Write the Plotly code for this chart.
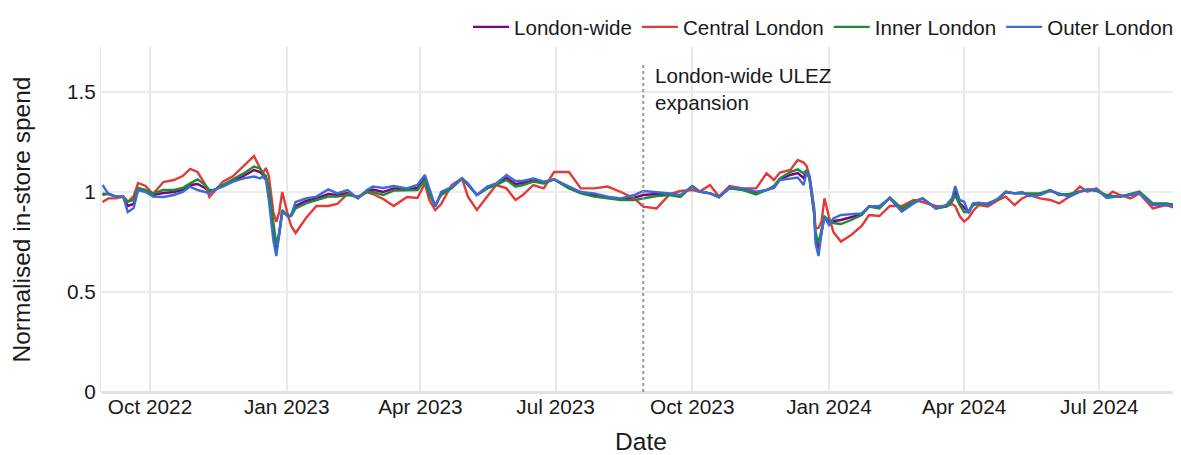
import plotly.graph_objects as go

dates = [
    # 2022-23 season
    "2022-08-30", "2022-09-03", "2022-09-08", "2022-09-13", "2022-09-16", "2022-09-20", "2022-09-23",
    "2022-09-28", "2022-10-03", "2022-10-10", "2022-10-17", "2022-10-23", "2022-10-28", "2022-11-02",
    "2022-11-07", "2022-11-10", "2022-11-13", "2022-11-19", "2022-11-26", "2022-12-03", "2022-12-10",
    "2022-12-14", "2022-12-16", "2022-12-18", "2022-12-20", "2022-12-23", "2022-12-25", "2022-12-27",
    "2022-12-29", "2023-01-02", "2023-01-04", "2023-01-07", "2023-01-14", "2023-01-21", "2023-01-29",
    "2023-02-04", "2023-02-11", "2023-02-18", "2023-02-24", "2023-02-28", "2023-03-07",
    # spring-summer 2023
    "2023-03-14", "2023-03-23", "2023-03-30", "2023-04-04", "2023-04-07", "2023-04-11", "2023-04-15",
    "2023-04-22", "2023-04-29", "2023-05-03", "2023-05-09", "2023-05-16", "2023-05-22", "2023-05-29",
    "2023-06-04", "2023-06-09", "2023-06-16", "2023-06-23", "2023-06-30", "2023-07-10", "2023-07-18",
    "2023-07-27", "2023-08-05", "2023-08-14", "2023-08-23", "2023-08-29", "2023-09-07", "2023-09-16",
    # 2023-24 season
    "2023-09-23", "2023-10-01", "2023-10-06", "2023-10-13", "2023-10-19", "2023-10-26", "2023-11-04",
    "2023-11-13", "2023-11-20", "2023-11-25", "2023-11-29", "2023-12-06", "2023-12-11", "2023-12-15",
    "2023-12-17", "2023-12-19", "2023-12-22", "2023-12-23", "2023-12-25", "2023-12-27", "2023-12-29",
    "2024-01-01", "2024-01-04", "2024-01-09", "2024-01-16", "2024-01-23", "2024-01-28", "2024-02-04",
    "2024-02-11", "2024-02-19", "2024-02-27", "2024-03-04", "2024-03-13", "2024-03-20", "2024-03-24",
    "2024-03-26", "2024-03-29", "2024-04-01", "2024-04-04", "2024-04-07",
    # spring-summer 2024
    "2024-04-11", "2024-04-17", "2024-04-24", "2024-04-29", "2024-05-05", "2024-05-10", "2024-05-15",
    "2024-05-22", "2024-05-29", "2024-06-04", "2024-06-11", "2024-06-18", "2024-06-23", "2024-06-29",
    "2024-07-06", "2024-07-10", "2024-07-15", "2024-07-22", "2024-07-28", "2024-08-06", "2024-08-15",
    "2024-08-22", "2024-08-25",
]

london_wide = [
    0.99, 0.99, 0.977, 0.976, 0.93, 0.94, 1.015, 1.005, 0.985, 0.995, 1.0, 1.01, 1.035, 1.04,
    1.02, 1.0, 1.01, 1.03, 1.055, 1.08, 1.11, 1.10, 1.085, 1.07, 1.0, 0.80, 0.71, 0.79,
    0.905, 0.878, 0.882, 0.93, 0.955, 0.968, 0.99, 0.985, 0.995, 0.972, 1.005, 1.012, 1.0,
    1.018, 1.012, 1.02, 1.07, 1.0, 0.93, 0.99, 1.02, 1.068, 1.038, 0.985, 1.02, 1.038, 1.07,
    1.04, 1.045, 1.058, 1.048, 1.063, 1.022, 0.997, 0.985, 0.972, 0.963, 0.972, 0.985, 0.99, 0.99,
    0.98, 1.028, 1.002, 0.993, 0.975, 1.02, 1.014, 0.995, 1.01, 1.025, 1.064, 1.085, 1.095, 1.07,
    1.105, 1.068, 0.90, 0.77, 0.71, 0.80, 0.877, 0.848, 0.855, 0.86, 0.873, 0.888, 0.927, 0.924,
    0.97, 0.91, 0.947, 0.968, 0.918, 0.93, 0.96, 1.005, 0.945, 0.925, 0.90, 0.94,
    0.943, 0.94, 0.966, 1.0, 0.993, 0.996, 0.985, 0.99, 1.007, 0.99, 0.983, 1.002, 1.012, 1.01,
    0.978, 0.977, 0.977, 0.987, 0.998, 0.94, 0.94, 0.932, 0.927,
]

central = [
    0.95, 0.968, 0.968, 0.977, 0.95, 0.98, 1.045, 1.03, 0.99, 1.05, 1.06, 1.08, 1.115, 1.10,
    1.04, 0.975, 1.0, 1.052, 1.08, 1.13, 1.18, 1.12, 1.095, 1.12, 1.08, 0.90, 0.85, 0.90,
    1.0, 0.88, 0.83, 0.795, 0.87, 0.93, 0.93, 0.94, 0.99, 0.97, 1.0, 0.99, 0.965,
    0.93, 0.975, 0.97, 1.043, 0.96, 0.91, 0.94, 1.035, 1.068, 0.977, 0.91, 0.977, 1.035, 1.018,
    0.96, 0.985, 1.035, 1.018, 1.10, 1.10, 1.018, 1.018, 1.027, 1.0, 0.968, 0.927, 0.918, 0.99,
    1.005, 1.01, 1.002, 1.035, 0.977, 1.03, 1.018, 1.018, 1.093, 1.06, 1.097, 1.11, 1.16, 1.147,
    1.13, 1.077, 0.927, 0.818, 0.82, 0.852, 0.968, 0.877, 0.80, 0.752, 0.785, 0.83, 0.885, 0.88,
    0.93, 0.93, 0.96, 0.95, 0.93, 0.927, 0.94, 0.93, 0.88, 0.852, 0.87, 0.905,
    0.935, 0.927, 0.96, 0.977, 0.935, 0.968, 0.985, 0.968, 0.96, 0.943, 0.977, 1.027, 1.002, 1.018,
    0.977, 1.002, 0.985, 0.968, 0.993, 0.918, 0.935, 0.918, 0.877,
]

inner = [
    0.985, 0.993, 0.977, 0.977, 0.952, 0.96, 1.02, 1.01, 0.993, 1.01, 1.01, 1.02, 1.043, 1.063,
    1.035, 1.01, 1.01, 1.035, 1.06, 1.093, 1.127, 1.118, 1.093, 1.08, 1.02, 0.83, 0.735, 0.80,
    0.91, 0.877, 0.88, 0.918, 0.943, 0.96, 0.977, 0.977, 0.985, 0.977, 1.0, 1.0, 0.985,
    1.007, 1.007, 1.01, 1.06, 0.985, 0.935, 0.985, 1.018, 1.068, 1.035, 0.985, 1.018, 1.035, 1.06,
    1.027, 1.035, 1.052, 1.043, 1.063, 1.018, 0.993, 0.977, 0.968, 0.96, 0.96, 0.968, 0.98, 0.985,
    0.975, 1.03, 1.002, 0.993, 0.977, 1.018, 1.01, 0.988, 1.01, 1.03, 1.068, 1.10, 1.113, 1.093,
    1.11, 1.06, 0.893, 0.80, 0.743, 0.81, 0.877, 0.86, 0.845, 0.84, 0.86, 0.885, 0.927, 0.918,
    0.973, 0.918, 0.952, 0.968, 0.918, 0.927, 0.952, 0.985, 0.935, 0.90, 0.90, 0.935,
    0.94, 0.943, 0.965, 1.0, 0.993, 0.993, 0.993, 0.993, 1.01, 0.985, 0.99, 1.002, 1.013, 1.005,
    0.985, 0.98, 0.977, 0.99, 1.002, 0.943, 0.943, 0.935, 0.927,
]

outer = [
    1.035, 0.99, 0.977, 0.975, 0.90, 0.92, 1.01, 1.0, 0.977, 0.975, 0.985, 1.0, 1.027, 1.01,
    1.0, 0.995, 1.01, 1.027, 1.052, 1.068, 1.077, 1.068, 1.077, 1.06, 0.96, 0.76, 0.68, 0.78,
    0.90, 0.88, 0.885, 0.95, 0.968, 0.977, 1.013, 0.993, 1.01, 0.968, 1.01, 1.027, 1.02,
    1.03, 1.018, 1.035, 1.085, 1.018, 0.927, 1.0, 1.025, 1.068, 1.043, 0.985, 1.027, 1.043, 1.085,
    1.055, 1.055, 1.068, 1.052, 1.063, 1.027, 1.0, 0.993, 0.977, 0.968, 0.985, 1.005, 1.0, 0.993,
    0.985, 1.027, 1.002, 0.993, 0.973, 1.023, 1.018, 1.002, 1.01, 1.02, 1.06, 1.068, 1.072, 1.035,
    1.10, 1.077, 0.91, 0.743, 0.68, 0.793, 0.877, 0.835, 0.868, 0.885, 0.89, 0.893, 0.927, 0.93,
    0.968, 0.902, 0.943, 0.968, 0.918, 0.935, 0.97, 1.03, 0.96, 0.952, 0.895, 0.943,
    0.947, 0.935, 0.968, 1.002, 0.993, 1.0, 0.98, 0.985, 1.005, 0.993, 0.977, 1.002, 1.01, 1.015,
    0.97, 0.975, 0.977, 0.985, 0.995, 0.935, 0.935, 0.93, 0.927,
]

series_names = ["London-wide", "Central London", "Inner London", "Outer London"]
series_values = [london_wide, central, inner, outer]
series_colors = ["#800080", "#E03A3A", "#1E8A34", "#3D6BD6"]

ulez_date = "2023-08-29"
ulez_label = "London-wide ULEZ<br>expansion"
y_tickvals = [0, 0.5, 1, 1.5]
y_ticktext = ["0", "0.5", "1", "1.5"]

FONT = "Liberation Sans, Arial, Helvetica, sans-serif"

fig = go.Figure()
for name, vals, col in zip(series_names, series_values, series_colors):
    fig.add_trace(go.Scatter(x=dates, y=vals, name=name, mode="lines",
                             line=dict(color=col, width=2.4)))

fig.add_shape(type="line", xref="x", yref="y", x0=ulez_date, x1=ulez_date, y0=0, y1=1.65,
              line=dict(color="#9a9a9a", width=2, dash="dot"), layer="above")
fig.add_annotation(x=ulez_date, y=1.65, xref="x", yref="y", text=ulez_label, showarrow=False,
                   xanchor="left", yanchor="top", align="left", xshift=10,
                   font=dict(size=20.6, color="#1a1a1a", family=FONT))

# The page body keeps its default 8px margin, so the figure is sized to fill the rest.
fig.update_layout(
    width=1173, height=447,
    margin=dict(l=93, r=0, t=39, b=63, autoexpand=False),
    plot_bgcolor="white", paper_bgcolor="white",
    font=dict(family=FONT, size=20.6, color="#1a1a1a"),
    legend=dict(orientation="h", x=0.3398, xanchor="left", y=1.058, yanchor="middle",
                font=dict(size=20.6), bgcolor="rgba(0,0,0,0)", itemwidth=36,
                tracegroupgap=0),
    xaxis=dict(type="date", range=["2022-08-29", "2024-08-25"], tick0="2022-10-01", dtick="M3",
               tickformat="%b %Y", showgrid=True, gridcolor="#e8e8e8", gridwidth=1.5,
               zeroline=False, showline=False, ticks="", automargin=True,
               tickfont=dict(size=20.8),
               title=dict(text="Date", font=dict(size=24.5), standoff=21)),
    yaxis=dict(range=[0, 1.725], tickvals=y_tickvals, ticktext=y_ticktext,
               showgrid=True, gridcolor="#ececec", gridwidth=2,
               zeroline=True, zerolinecolor="#e2e2e2", zerolinewidth=3,
               showline=True, linecolor="#e6e6e6", linewidth=1, ticks="",
               automargin=False, tickfont=dict(size=20.8),
               title=dict(text="Normalised in-store spend", font=dict(size=24.5), standoff=29)),
)

fig.write_html("out.html", config={"displayModeBar": False})
